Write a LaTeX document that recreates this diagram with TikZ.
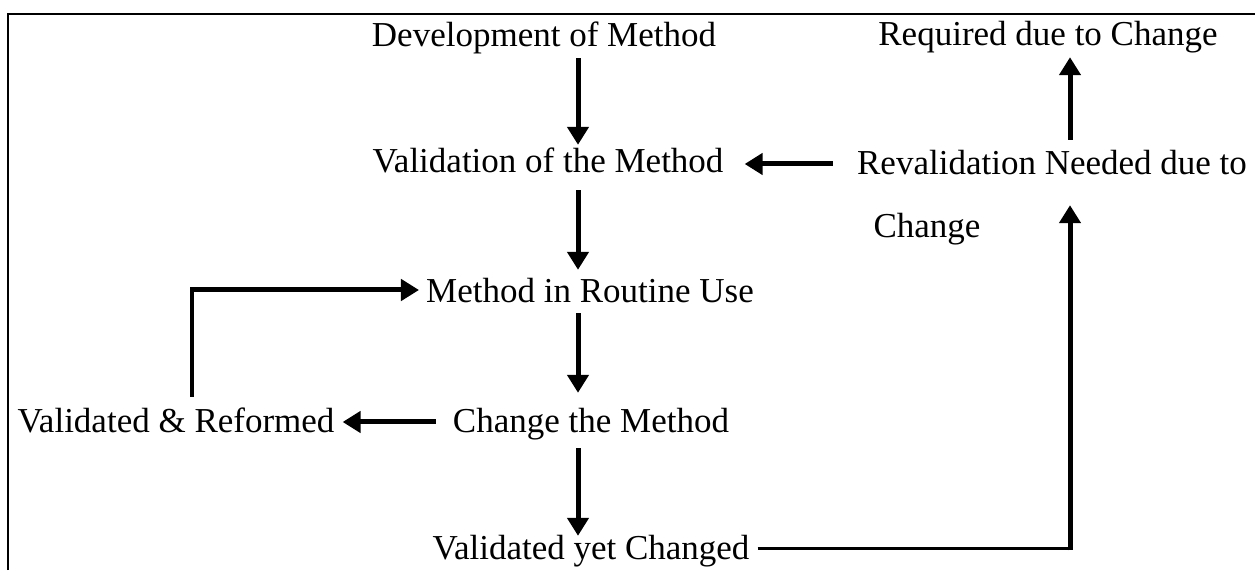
\documentclass[tikz,border=0pt]{standalone}
\usepackage{fontspec}
\setmainfont{Liberation Serif}
\usetikzlibrary{arrows.meta}
\begin{document}
\begin{tikzpicture}[x=1pt,y=1pt,
  lbl/.style={anchor=base,inner sep=0pt,text height=24pt,text depth=8pt,font=\fontsize{35}{40}\selectfont},
  arr/.style={line width=5pt,-{Triangle[length=18pt,width=21pt]}},
  plain/.style={line width=3pt}]
\useasboundingbox (0,0) rectangle (1255,570);
\draw[line width=2pt] (8,0) -- (8,556) -- (1255,556);
\coordinate (axL) at (578,300);
\coordinate (axR) at (1070,300);
\node[lbl] (dev)  at (544,523) {Development of Method};
\node[lbl] (req)  at (1048,524) {Required due to Change};
\node[lbl] (val)  at (548,397) {Validation of the Method};
\node[lbl] (rev)  at (1052,395) {Revalidation Needed due to};
\node[lbl] (rev2) at (927,332) {Change};
\node[lbl] (rut)  at (590,267) {Method in Routine Use};
\node[lbl] (chg)  at (591,137) {Change the Method};
\node[lbl] (vref) at (176,137) {Validated \& Reformed};
\node[lbl] (vyet) at (591,10) {Validated yet Changed};
% vertical chain
\draw[arr,shorten <=3pt,shorten >=4pt] (dev.south -| axL) -- (val.north -| axL);
\draw[arr,shorten <=9pt,shorten >=9pt] (val.south -| axL) -- (rut.north -| axL);
\draw[arr,shorten <=2pt,shorten >=16pt] (rut.south -| axL) -- (chg.north -| axL);
\draw[arr,shorten <=7pt] (chg.south -| axL) -- (vyet.north -| axL);
% horizontal arrows
\draw[arr,shorten <=24pt,shorten >=21pt] ([yshift=3pt]rev.west) -- ([yshift=3pt]rev.west -| val.east);
\draw[arr,shorten <=17pt,shorten >=8pt] ([yshift=3pt]chg.west) -- ([yshift=3pt]chg.west -| vref.east);
% reformed back to routine use
\draw[line width=4pt] ([xshift=16pt,yshift=12pt]vref.north) -- ([xshift=16pt,yshift=5pt]rut.west -| vref.north);
\draw[arr,shorten >=7pt] ([xshift=14pt,yshift=5pt]rut.west -| vref.north) -- ([yshift=5pt]rut.west);
% validated yet changed to revalidation
\coordinate (corner) at (vyet.east -| axR);
\draw[plain,shorten <=8pt] ([yshift=3pt]vyet.east) -- ([xshift=2pt,yshift=3pt]corner);
\draw[arr,shorten >=22pt] ([yshift=1.5pt]corner) -- (rev.south -| axR);
% revalidation to required
\draw[arr,shorten <=11pt,shorten >=3pt] (rev.north -| axR) -- (req.south -| axR);
\end{tikzpicture}
\end{document}
